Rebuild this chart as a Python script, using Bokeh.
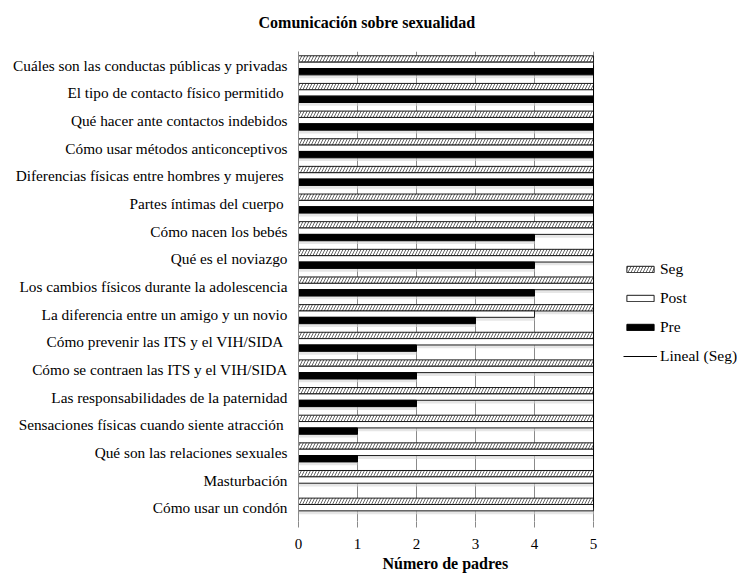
import numpy as np
from bokeh.plotting import figure
from bokeh.models import (FactorRange, Range1d, FixedTicker, Legend, LegendItem,
                          ColumnDataSource, Title)
from bokeh.transform import dodge
from bokeh.embed import file_html
from bokeh.resources import INLINE

categories = [
    "Cuáles son las conductas públicas y privadas",
    "El tipo de contacto físico permitido ",
    "Qué hacer ante contactos indebidos",
    "Cómo usar métodos anticonceptivos",
    "Diferencias físicas entre hombres y mujeres ",
    "Partes íntimas del cuerpo ",
    "Cómo nacen los bebés",
    "Qué es el noviazgo",
    "Los cambios físicos durante la adolescencia",
    "La diferencia entre un amigo y un novio",
    "Cómo prevenir las ITS y el VIH/SIDA ",
    "Cómo se contraen las ITS y el VIH/SIDA",
    "Las responsabilidades de la paternidad",
    "Sensaciones físicas cuando siente atracción ",
    "Qué son las relaciones sexuales",
    "Masturbación",
    "Cómo usar un condón",
]
seg = [5, 5, 5, 5, 5, 5, 5, 5, 5, 5, 5, 5, 5, 5, 5, 5, 5]
post = [5, 5, 5, 5, 5, 5, 5, 5, 5, 4, 5, 5, 5, 5, 5, 5, 5]
pre = [5, 5, 5, 5, 5, 5, 4, 4, 4, 3, 2, 2, 2, 1, 1, 0, 0]
x_ticks = [0, 1, 2, 3, 4, 5]

idx = np.arange(len(seg))
slope, intercept = np.polyfit(idx, np.array(seg, dtype=float), 1)
trend = list(slope * idx + intercept)

src = ColumnDataSource(dict(cat=categories, seg=seg, post=post, pre=pre, trend=trend))

FONT = "Liberation Serif"
GRID = "#8a8a8a"

# the frame runs on to the right edge so that the legend can sit inside it;
# ticks and grid lines stop at 5
p = figure(width=737, height=574, output_backend="svg", toolbar_location=None,
           y_range=FactorRange(factors=list(reversed(categories)), range_padding=0),
           x_range=Range1d(0, 7.44),
           min_border_left=298, min_border_right=0, min_border_top=51,
           min_border_bottom=53)
p.title = Title(text="Comunicación sobre sexualidad", align="left", offset=-40,
                text_font=FONT, text_font_size="16px", text_font_style="bold",
                text_color="#000000", standoff=0)
# blank spacer between the title and the plot area
p.add_layout(Title(text=" ", text_font=FONT, text_font_size="10px", standoff=8), "above")
p.outline_line_color = None
p.background_fill_color = "white"
p.border_fill_color = "white"

H = 0.23
OFF = 0.23
SH = "#d6d6d6"
# shadows
p.hbar(y=dodge("cat", OFF - 0.12, range=p.y_range), left=0, right="seg", height=H,
       source=src, fill_color=SH, fill_alpha=0.6, line_color=None)
p.hbar(y=dodge("cat", -0.12, range=p.y_range), left=0, right="post", height=H,
       source=src, fill_color=SH, fill_alpha=0.6, line_color=None)
p.hbar(y=dodge("cat", -OFF - 0.12, range=p.y_range), left=0, right="pre", height=H,
       source=src, fill_color=SH, fill_alpha=0.6, line_color=None)

r_seg = p.hbar(y=dodge("cat", OFF, range=p.y_range), left=0, right="seg", height=H,
               source=src, fill_color="white", line_color="#1a1a1a", line_width=1,
               hatch_pattern="/", hatch_color="#666666", hatch_scale=6, hatch_weight=1)
r_post = p.hbar(y=dodge("cat", 0, range=p.y_range), left=0, right="post", height=H,
                source=src, fill_color="white", line_color="#1a1a1a", line_width=1)
r_pre = p.hbar(y=dodge("cat", -OFF, range=p.y_range), left=0, right="pre", height=H,
               source=src, fill_color="black", line_color="black", line_width=1)
r_trend = p.line(x="trend", y="cat", source=src, line_color="#000000", line_width=1)

# axes
p.xaxis.ticker = FixedTicker(ticks=x_ticks)
p.xaxis.axis_line_color = None
p.xaxis.major_tick_out = 6
p.xaxis.major_tick_in = 0
p.xaxis.minor_tick_line_color = None
p.xaxis.major_tick_line_color = GRID
p.xaxis.major_label_text_font = FONT
p.xaxis.major_label_text_font_size = "15px"
p.xaxis.major_label_text_color = "#000000"
p.xaxis.major_label_standoff = 11

p.add_layout(Title(text="Número de padres", align="left", offset=84,
                   text_font=FONT, text_font_size="16px", text_font_style="bold",
                   text_color="#000000", standoff=2), "below")

p.yaxis.axis_line_color = GRID
p.yaxis.major_tick_out = 0
p.yaxis.major_tick_in = 0
p.yaxis.major_label_text_font = FONT
p.yaxis.major_label_text_font_size = "15.3px"
p.yaxis.major_label_text_color = "#000000"
p.yaxis.major_label_standoff = 11

p.xgrid.grid_line_color = GRID
p.xgrid.grid_line_width = 1
p.ygrid.grid_line_color = None

legend = Legend(items=[
    LegendItem(label="Seg", renderers=[r_seg]),
    LegendItem(label="Post", renderers=[r_post]),
    LegendItem(label="Pre", renderers=[r_pre]),
    LegendItem(label="Lineal (Seg)", renderers=[r_trend]),
], location=(325, 156), glyph_width=34, glyph_height=8, label_height=8,
    spacing=11, padding=0, margin=0, label_standoff=3,
    label_text_font=FONT, label_text_font_size="15.5px", label_text_color="#000000",
    border_line_color=None, background_fill_alpha=0)
p.add_layout(legend, "center")

open("out.html", "w").write(file_html(p, INLINE))
